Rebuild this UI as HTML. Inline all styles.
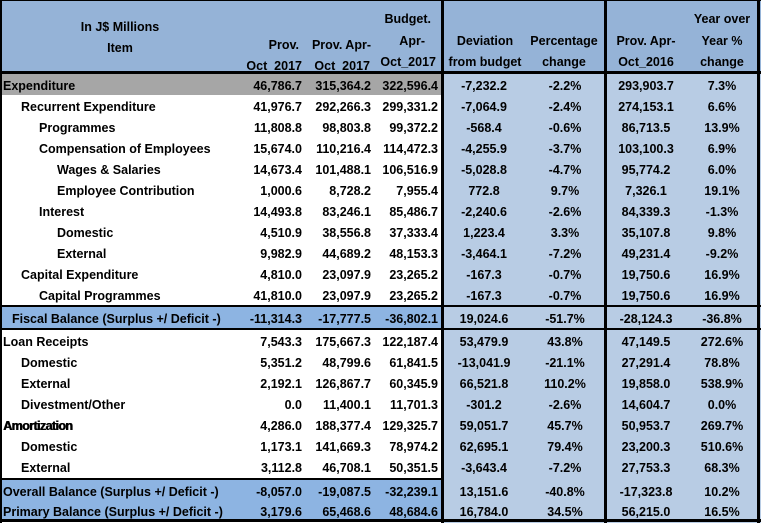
<!DOCTYPE html>
<html><head><meta charset="utf-8"><style>
body{margin:0;width:761px;height:523px;overflow:hidden;background:#fff;font-family:"Liberation Sans",Arial,sans-serif;font-weight:bold;font-size:12.5px;color:#000}
#t{position:relative;width:761px;height:523px}
.bx{position:absolute}
.tx{position:absolute;white-space:nowrap;line-height:14px}
</style></head><body>
<div id="t"></div>
<script>
const labels=["Expenditure","Recurrent Expenditure","Programmes","Compensation of Employees","Wages & Salaries","Employee Contribution","Interest","Domestic","External","Capital Expenditure","Capital Programmes","Fiscal Balance (Surplus +/ Deficit -)","Loan Receipts","Domestic","External","Divestment/Other","Amortization","Domestic","External","Overall Balance (Surplus +/ Deficit -)","Primary Balance  (Surplus +/ Deficit -)"];
const indents=[3,21,39,39,57,57,39,57,57,21,39,12,3,21,21,21,3,21,21,3,3];
const provOct=["46,786.7","41,976.7","11,808.8","15,674.0","14,673.4","1,000.6","14,493.8","4,510.9","9,982.9","4,810.0","41,810.0","-11,314.3","7,543.3","5,351.2","2,192.1","0.0","4,286.0","1,173.1","3,112.8","-8,057.0","3,179.6"];
const provAprOct=["315,364.2","292,266.3","98,803.8","110,216.4","101,488.1","8,728.2","83,246.1","38,556.8","44,689.2","23,097.9","23,097.9","-17,777.5","175,667.3","48,799.6","126,867.7","11,400.1","188,377.4","141,669.3","46,708.1","-19,087.5","65,468.6"];
const budget=["322,596.4","299,331.2","99,372.2","114,472.3","106,516.9","7,955.4","85,486.7","37,333.4","48,153.3","23,265.2","23,265.2","-36,802.1","122,187.4","61,841.5","60,345.9","11,701.3","129,325.7","78,974.2","50,351.5","-32,239.1","48,684.6"];
const deviation=["-7,232.2","-7,064.9","-568.4","-4,255.9","-5,028.8","772.8","-2,240.6","1,223.4","-3,464.1","-167.3","-167.3","19,024.6","53,479.9","-13,041.9","66,521.8","-301.2","59,051.7","62,695.1","-3,643.4","13,151.6","16,784.0"];
const pct=["-2.2%","-2.4%","-0.6%","-3.7%","-4.7%","9.7%","-2.6%","3.3%","-7.2%","-0.7%","-0.7%","-51.7%","43.8%","-21.1%","110.2%","-2.6%","45.7%","79.4%","-7.2%","-40.8%","34.5%"];
const prov2016=["293,903.7","274,153.1","86,713.5","103,100.3","95,774.2","7,326.1","84,339.3","35,107.8","49,231.4","19,750.6","19,750.6","-28,124.3","47,149.5","27,291.4","19,858.0","14,604.7","50,953.7","23,200.3","27,753.3","-17,323.8","56,215.0"];
const yoy=["7.3%","6.6%","13.9%","6.9%","6.0%","19.1%","-1.3%","9.8%","-9.2%","16.9%","16.9%","-36.8%","272.6%","78.8%","538.9%","0.0%","269.7%","510.6%","68.3%","10.2%","16.5%"];
const rowTops=[74,95,116,137,158,179,200,221,242,263,284,307,330,351,372,393,414,435,456,480,501];
const rowH=[21,21,21,21,21,21,21,21,21,21,21,21,21,21,21,21,21,21,21,21,19];

const T=document.getElementById('t');
function box(x,y,w,h,bg){const d=document.createElement('div');d.className='bx';d.style.cssText=`left:${x}px;top:${y}px;width:${w}px;height:${h}px;background:${bg}`;T.appendChild(d);return d;}
function txt(s,x,y,align){const d=document.createElement('div');d.className='tx';d.textContent=s;
 if(align==='r'){d.style.right=(761-x)+'px';}else if(align==='c'){d.style.left=(x-60)+'px';d.style.width='120px';d.style.textAlign='center';}else{d.style.left=x+'px';}
 d.style.top=(y-7)+'px';T.appendChild(d);return d;}

// backgrounds
let b;
b=box(0,0,761,72,'#95b3d7');


b=box(443,72,318,451,'#b8cce4');


b=box(0,74,443,21,'#a6a6a6');


b=box(0,307,443,21,'#8db4e2');


b=box(0,480,443,41,'#8db4e2');



// header text
const hdr=[["In J$ Millions",120,27,'c'],["Item",120,48,'c'],["Prov.",299,45,'r'],["Oct_2017",302,66,'r'],["Prov. Apr-",371,45,'r'],["Oct_2017",370,66,'r'],["Budget.",431,19,'r'],["Apr-",425,41,'r'],["Oct_2017",436,62,'r'],["Deviation",485,41,'c'],["from budget",485,62,'c'],["Percentage",564,41,'c'],["change",564,62,'c'],["Prov. Apr-",646,41,'c'],["Oct_2016",646,62,'c'],["Year over",722,19,'c'],["Year %",722,41,'c'],["change",722,62,'c']];
hdr.forEach(h=>{const e=txt(h[0],h[1],h[2],h[3]);

});

for(let i=0;i<labels.length;i++){
 const cy=rowTops[i]+rowH[i]/2+1;
 let e=txt(labels[i],indents[i],cy,'l');
 
 
 if(labels[i]==='Amortization'){e.style.letterSpacing='-0.6px';e.style.textShadow='0.6px 0 0 #000';}
 e=txt(provOct[i],302,cy,'r');
 
 
 e=txt(provAprOct[i],371,cy,'r');
 
 
 e=txt(budget[i],438,cy,'r');
 
 
 e=txt(deviation[i],484,cy,'c');
 
 
 e=txt(pct[i],565,cy,'c');
 
 
 e=txt(prov2016[i],646,cy,'c');
 
 
 e=txt(yoy[i],722,cy,'c');
 
 
}

// borders
const lines=[[0,71,761,3],[0,305,761,2],[0,328,761,2],[0,478,443,2],[0,519,761,3],[441,0,3,523],[604,0,3,523],[757,0,3,523],[0,0,2,523],[0,0,761,1]];
lines.forEach(l=>{const d=box(l[0],l[1],l[2],l[3],'#000');

});
</script>
</body></html>
